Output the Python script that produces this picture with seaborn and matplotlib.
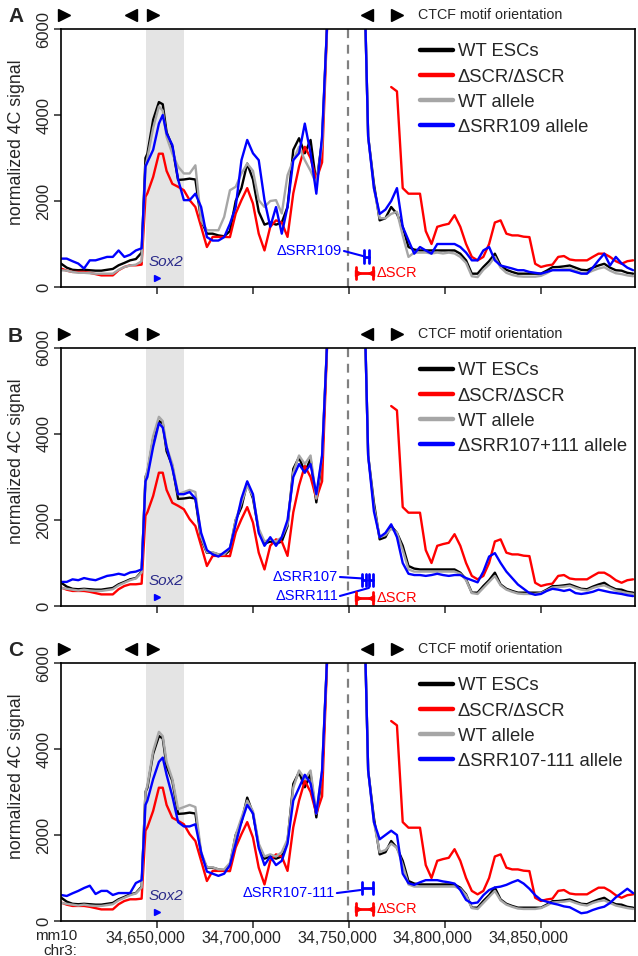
import numpy as np
import pandas as pd
import matplotlib
matplotlib.use("Agg")
import matplotlib.pyplot as plt
import matplotlib.transforms as mtransforms
from matplotlib.lines import Line2D
from matplotlib.ticker import FuncFormatter
import seaborn as sns

sns.set_style("ticks")
plt.rcParams['font.family'] = ['Liberation Sans', 'DejaVu Sans']

# ---------------- data ----------------
CHR_START = 34600000
# positions (kb offset from 34,600,000)
kb = [0, 3, 6, 9, 12, 15, 18, 21, 24, 27, 30, 33, 36, 39, 42, 44, 45, 48, 51, 53,
      55, 58, 61, 64, 67, 70, 73, 76, 79, 82, 85, 88, 91, 94, 97, 100, 103, 106, 109, 112,
      115, 118, 121, 124, 127, 130, 133, 136, 139, 142, 150, 157, 160, 163, 166, 169, 172, 175, 178, 181,
      184, 187, 190, 193, 196, 199, 202, 205, 208, 211, 214, 217, 220, 223, 226, 229, 232, 235, 238, 241,
      244, 247, 250, 253, 256, 259, 262, 265, 268, 271, 274, 277, 280, 283, 286, 289, 292, 295, 298]

NA = np.nan
wt_escs = [545, 450, 400, 390, 400, 390, 380, 380, 400, 420, 505, 560, 620, 650, 800, 3000, 3100, 3890, 4300, 4250,
           3600, 3260, 2490, 2500, 2520, 2500, 1550, 1240, 1240, 1200, 1180, 1300, 2000, 2300, 2870, 2500, 1750, 1450, 1500, 1450,
           1500, 1860, 3190, 3460, 3110, 3420, 2410, 3400, 6500, 9000, 9000, 9000, 3500, 2400, 1550, 1600, 1860, 1700, 1400, 930,
           870, 850, 850, 850, 850, 850, 850, 850, 775, 620, 310, 310, 465, 600, 775, 500, 400, 350, 310, 310,
           310, 310, 310, 380, 460, 465, 480, 500, 450, 400, 390, 450, 500, 540, 450, 390, 380, 330, 310]
scr_scr = [430, 380, 350, 350, 350, 330, 300, 270, 270, 270, 390, 465, 505, 505, 520, 2100, 2180, 2560, 3100, 3100,
           2700, 2400, 2330, 2250, 2020, 1860, 1400, 930, 1165, 1165, 1165, 1160, 1710, 2020, 2300, 1940, 1240, 850, 1400, 1550,
           1500, 1165, 2180, 2800, 3260, 3000, 2500, 2900, 6500, NA, NA, NA, NA, NA, NA, NA, 4650, 4550, 2300, 2170,
           2170, 2170, 1300, 1000, 1400, 1440, 1470, 1670, 1400, 1000, 700, 620, 700, 1000, 1500, 1550, 1240, 1200, 1200, 1170,
           1160, 540, 465, 500, 520, 700, 720, 640, 620, 620, 620, 700, 775, 775, 700, 600, 540, 600, 620]

wt_allele_a = [390, 380, 350, 330, 330, 320, 310, 310, 310, 310, 400, 465, 500, 520, 600, 2800, 3000, 3700, 4200, 4100,
               3490, 3100, 2800, 2640, 2640, 2830, 1550, 1320, 1320, 1320, 1630, 2250, 2330, 2640, 2870, 2700, 2020, 1860, 2000, 2020,
               1710, 2600, 2950, 3260, 2950, 2700, 2400, 3300, 6500, 9000, 9000, 9000, 3500, 2300, 1600, 1600, 1700, 1750, 1200, 700,
               800, 800, 800, 780, 800, 780, 800, 780, 700, 560, 250, 230, 400, 520, 700, 450, 330, 280, 250, 240,
               240, 240, 260, 320, 400, 400, 420, 430, 380, 330, 320, 380, 430, 460, 380, 320, 300, 270, 250]
srr109_a = [660, 660, 600, 545, 430, 620, 620, 660, 700, 700, 850, 700, 750, 850, 900, 2800, 2900, 3190, 3800, 4000,
            3570, 3300, 2500, 2020, 2020, 2170, 1860, 1160, 1080, 1080, 1160, 1470, 1860, 2950, 3420, 3110, 2950, 2020, 1400, 1860,
            1240, 1860, 2950, 3110, 3800, 3110, 2170, 3500, 6500, 9000, 9000, 9000, 3500, 2300, 1700, 1800, 2000, 2300, 1400, 1085,
            775, 930, 850, 775, 1000, 1000, 1000, 1000, 930, 800, 620, 620, 850, 930, 620, 500, 465, 430, 390, 390,
            350, 330, 310, 350, 390, 390, 390, 390, 350, 310, 310, 450, 620, 775, 500, 700, 550, 450, 390]

wt_allele_b = [420, 400, 380, 360, 380, 360, 350, 350, 370, 390, 480, 540, 600, 640, 780, 3000, 3150, 3950, 4400, 4300,
               3700, 3300, 2600, 2650, 2700, 2650, 1600, 1250, 1250, 1200, 1200, 1350, 2000, 2400, 2800, 2550, 1800, 1500, 1550, 1500,
               1600, 1900, 3100, 3500, 3300, 3500, 2500, 3500, 6500, 9000, 9000, 9000, 3500, 2300, 1600, 1650, 1800, 1700, 1300, 850,
               800, 800, 800, 800, 800, 800, 800, 800, 750, 600, 300, 280, 420, 560, 700, 480, 380, 330, 290, 280,
               280, 280, 300, 360, 430, 440, 450, 470, 420, 380, 360, 420, 460, 480, 420, 360, 330, 300, 280]
srr107_111_b = [560, 560, 620, 600, 650, 620, 600, 650, 700, 720, 750, 720, 780, 800, 850, 2900, 3000, 3700, 4250, 4150,
                3700, 3200, 2600, 2600, 2650, 2500, 1700, 1300, 1200, 1150, 1250, 1350, 1900, 2500, 2900, 2600, 1700, 1400, 1600, 1400,
                1600, 2000, 3000, 3300, 3100, 3300, 2600, 3500, 6500, 9000, 9000, 9000, 3500, 2200, 1600, 1700, 1900, 1600, 1000, 750,
                720, 720, 700, 720, 750, 720, 700, 720, 720, 650, 600, 550, 800, 1150, 1230, 1000, 800, 650, 500, 400,
                300, 260, 280, 350, 400, 380, 350, 380, 300, 280, 300, 330, 380, 350, 320, 300, 280, 250, 230]

wt_allele_c = [420, 400, 380, 360, 380, 360, 350, 350, 370, 390, 480, 540, 600, 640, 780, 3000, 3150, 3950, 4400, 4300,
               3700, 3300, 2600, 2650, 2700, 2650, 1600, 1250, 1250, 1200, 1200, 1350, 2000, 2400, 2800, 2550, 1800, 1500, 1550, 1500,
               1600, 1900, 3100, 3500, 3300, 3500, 2500, 3500, 6500, 9000, 9000, 9000, 3500, 2300, 1600, 1650, 1800, 1700, 1300, 850,
               800, 800, 800, 800, 800, 800, 800, 800, 750, 600, 300, 280, 420, 560, 700, 480, 380, 330, 290, 280,
               280, 280, 300, 360, 430, 440, 450, 470, 420, 380, 360, 420, 460, 480, 420, 360, 330, 300, 280]
srr107_111_c = [605, 582, 644, 700, 767, 821, 628, 700, 700, 605, 650, 650, 650, 883, 950, 2700, 2800, 3300, 3700, 3800,
                3400, 2900, 2300, 2200, 2200, 2250, 1600, 1150, 1100, 1050, 1100, 1300, 1800, 2300, 2700, 2500, 1700, 1300, 1500, 1300,
                1400, 1800, 2800, 3100, 3400, 3200, 2500, 3500, 6500, 9000, 9000, 9000, 3500, 2300, 1900, 2000, 2100, 2000, 1100, 880,
                840, 900, 950, 950, 950, 920, 900, 870, 720, 490, 410, 430, 600, 720, 780, 800, 840, 900, 950, 870,
                750, 600, 490, 450, 410, 380, 340, 320, 250, 180, 200, 256, 300, 333, 420, 550, 650, 750, 650]

series_names = ["WT ESCs", "\u0394SCR/\u0394SCR", "WT allele"]
allele_labels = ["\u0394SRR109 allele", "\u0394SRR107+111 allele", "\u0394SRR107-111 allele"]
wt_allele = [wt_allele_a, wt_allele_b, wt_allele_c]
mut_allele = [srr109_a, srr107_111_b, srr107_111_c]
colors = ["#000000", "#ff0000", "#a6a6a6", "#0000ff"]

panel_letters = ["A", "B", "C"]
xticks = [34650000, 34700000, 34750000, 34800000, 34850000]
yticks = [0, 2000, 4000, 6000]

# annotation data
sox2_region = (34644300, 34664000)
viewpoint = 34749500
ctcf_pos = [34601600, 34636500, 34647900, 34759400, 34775000]
ctcf_dir = [">", "<", ">", "<", ">"]
scr_del = (34753600, 34762500)
del_regions = [
    [(34757800, 34760400, 700)],
    [(34756800, 34758900, 605), (34760400, 34762500, 605)],
    [(34756800, 34762500, 768)],
]
del_labels = [
    [("\u0394SRR109", 34746400, 837, 34757300, 720)],
    [("\u0394SRR107", 34744300, 674, 34757300, 640), ("\u0394SRR111", 34744300, 233, 34760400, 420)],
    [("\u0394SRR107-111", 34742700, 650, 34756000, 720)],
]
scr_y = [326, 186, 280]

# ---------------- figure ----------------
fig = plt.figure(figsize=(6.38, 9.56), dpi=100)
W, H = 638, 956
panel_tops = [29, 348, 663]
ax_h = 258
x_left, x_right = 61, 635

for i in range(3):
    top = panel_tops[i]
    ax = fig.add_axes([x_left / W, 1 - (top + ax_h) / H, (x_right - x_left) / W, ax_h / H])
    ax.set_xlim(CHR_START, CHR_START + 299000)
    ax.set_ylim(0, 6000)
    ax.axvspan(sox2_region[0], sox2_region[1], color="#e4e4e4", lw=0, zorder=0)
    ax.axvline(viewpoint, color="#808080", lw=1.6, ls=(0, (4, 3)), zorder=1)

    pos = np.array([CHR_START + k * 1000 for k in kb])
    all_series = [wt_escs, scr_scr, wt_allele[i], mut_allele[i]]
    for s, col in zip(all_series, colors):
        arr = np.array(s, dtype=float)
        valid = ~np.isnan(arr)
        seg_id = np.cumsum(~valid)
        df = pd.DataFrame({"pos": pos[valid], "sig": arr[valid], "seg": seg_id[valid]})
        for _, g in df.groupby("seg"):
            sns.lineplot(data=g, x="pos", y="sig", color=col, lw=1.7, ax=ax,
                         estimator=None, sort=False, legend=False)

    # legend
    handles = [Line2D([], [], color=c, lw=3.2) for c in colors]
    labels = series_names + [allele_labels[i]]
    ax.legend(handles, labels, loc="upper left", bbox_to_anchor=(0.625, 0.944),
              frameon=False, fontsize=13.3, handlelength=1.78, handletextpad=0.27,
              labelspacing=0.44, borderaxespad=0, borderpad=0)

    # axes styling
    for sp in ax.spines.values():
        sp.set_visible(True)
        sp.set_linewidth(1.2)
        sp.set_color("black")
    ax.set_xticks(xticks)
    ax.set_yticks(yticks)
    ax.tick_params(axis="both", direction="out", length=5, width=1.1, pad=2)
    ax.tick_params(axis="x", labelsize=11.5)
    ax.tick_params(axis="y", labelsize=12)
    ax.xaxis.set_major_formatter(FuncFormatter(lambda v, p: f"{int(v):,}"))
    if i < 2:
        ax.tick_params(axis="x", labelbottom=False)
    else:
        shift = mtransforms.ScaledTranslation(-12 / 100, 0, fig.dpi_scale_trans)
        for lbl in ax.get_xticklabels():
            lbl.set_transform(lbl.get_transform() + shift)
    for lbl in ax.get_yticklabels():
        lbl.set_rotation(90)
        lbl.set_va("center")
    ax.set_xlabel("")
    ax.set_ylabel("normalized 4C signal", fontsize=12.8)
    ax.yaxis.set_label_coords(-0.063, 0.562)

    # CTCF triangles
    trans = mtransforms.blended_transform_factory(ax.transData, ax.transAxes)
    for p_, d_ in zip(ctcf_pos, ctcf_dir):
        ax.plot([p_], [1.055], marker=d_, ms=9, color="black", transform=trans, clip_on=False, ls="none")
    ax.text(34786000, 1.055, "CTCF motif orientation", transform=trans, fontsize=10.3, va="center", ha="left")

    # Sox2
    ax.text(34654700, 570, "Sox2", style="italic", color="#2b2b8a", fontsize=11, ha="center", va="center")
    ax.plot([34650000], [215], marker=">", ms=4.5, color="#0000ff", ls="none")

    # deletions
    for (s_, e_, y_) in del_regions[i]:
        ax.plot([s_, e_], [y_, y_], color="#0000ff", lw=2)
        for xx in (s_, e_):
            ax.plot([xx, xx], [y_ - 150, y_ + 150], color="#0000ff", lw=2)
    for (txt, tx, ty, lx, ly) in del_labels[i]:
        ax.text(tx, ty, txt, color="#0000ff", fontsize=10.5, ha="right", va="center")
        ax.plot([tx + 1000, lx], [ty, ly], color="#0000ff", lw=1.5)
    ys = scr_y[i]
    ax.plot([scr_del[0], scr_del[1]], [ys, ys], color="#ff0000", lw=2)
    for xx in scr_del:
        ax.plot([xx, xx], [ys - 130, ys + 130], color="#ff0000", lw=2)
    ax.plot([scr_del[0] + 1200], [ys], marker=">", ms=5, color="#ff0000", ls="none")
    ax.plot([scr_del[1] - 1200], [ys], marker="<", ms=5, color="#ff0000", ls="none")
    ax.text(scr_del[1] + 2000, ys, "\u0394SCR", color="#ff0000", fontsize=10.5, ha="left", va="center")

    fig.text(8 / W, 1 - (top - 12) / H, panel_letters[i], fontsize=15, fontweight="bold", ha="left", va="center")

fig.text(77 / W, 1 - 943.5 / H, "mm10\nchr3:", fontsize=11, ha="right", va="center",
         multialignment="right", linespacing=1.05)

fig.savefig("out.png", dpi=100)
